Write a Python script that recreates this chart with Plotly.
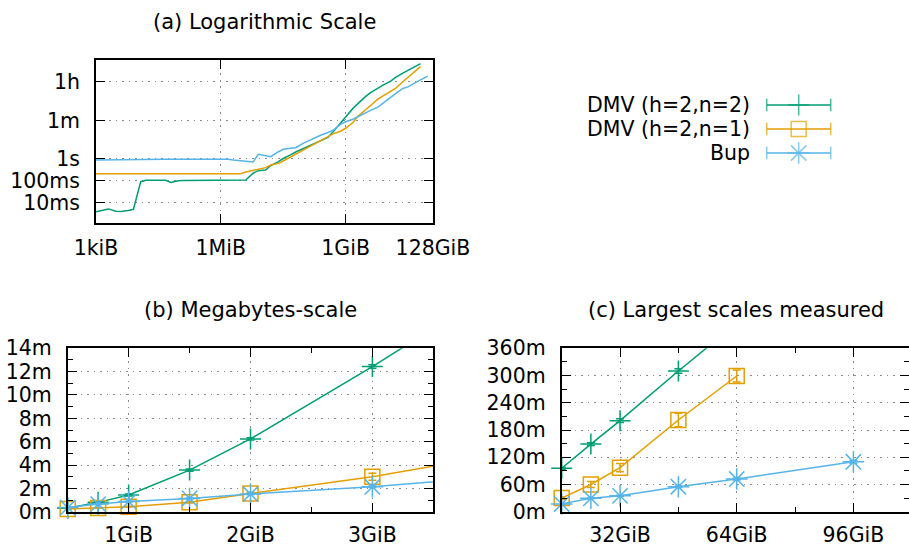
import numpy as np
import plotly.graph_objects as go

# ---------------- data ----------------
# problem sizes (kiB): 2^k and 1.5*2^k, from 1 kiB to 96 GiB
sizes_kib = [1, 1.5, 2, 3, 4, 6, 8, 12, 16, 24, 32, 48, 64, 96, 128, 192, 256, 384,
             512, 768, 1024, 1536, 2048, 3072, 4096, 6144, 8192, 12288, 16384, 24576,
             32768, 49152, 65536, 98304, 131072, 196608, 262144, 393216, 524288, 786432,
             1048576, 1572864, 2097152, 3145728, 4194304, 6291456, 8388608, 12582912,
             16777216, 25165824, 33554432, 50331648, 67108864, 100663296]

# running times in seconds
dmv22_s = [0.0037, 0.0043, 0.0050, 0.0039, 0.0038, 0.0042, 0.0048, 0.090, 0.104, 0.104,
           0.104, 0.104, 0.082, 0.100, 0.102, 0.102, 0.102, 0.102, 0.102, 0.102,
           0.102, 0.102, 0.102, 0.102, 0.108, 0.22, 0.29, 0.31, 0.50, 0.73,
           1.05, 1.53, 2.1, 2.95, 3.85, 5.5, 7.1, 9.8, 18, 48,
           86, 214, 374, 746, 1140, 1900, 2510, 3770, 5742, 8940,
           12036, 18600, 24900]
dmv21_s = [0.21, 0.21, 0.21, 0.21, 0.21, 0.21, 0.21, 0.21, 0.21, 0.21,
           0.21, 0.21, 0.21, 0.21, 0.21, 0.21, 0.21, 0.21, 0.21, 0.21,
           0.21, 0.21, 0.21, 0.21, 0.25, 0.30, 0.34, 0.40, 0.53, 0.61,
           0.81, 1.2, 1.61, 2.47, 3.39, 5.2, 7.1, 10.9, 14.4, 19,
           26, 48, 94, 180, 288, 570, 800, 1275, 1800, 3600,
           5820, 12120, 17940]
bup_s = [0.90, 0.91, 0.93, 0.96, 0.97, 0.97, 0.96, 0.97, 0.97, 0.97,
         0.97, 0.97, 0.96, 0.97, 0.97, 0.97, 0.97, 0.96, 0.97, 0.97,
         0.97, 0.97, 0.90, 0.84, 0.80, 0.72, 1.65, 1.45, 1.28, 2.1,
         2.8, 3.1, 3.3, 5.2, 6.75, 9.3, 12.4, 16.6, 21, 39,
         52, 68, 91, 128, 174, 245, 380, 665, 1020, 1770,
         2100, 3300, 4320, 6600]

# error (minutes) for sizes from 512 MiB upwards
dmv22_err_m = [0.03, 0.05, 0.08, 0.1, 0.1, 0.15, 0.2, 0.5, 0.6, 1, 2, 3, 4, 5, 6]
dmv21_err_m = [0.02, 0.02, 0.03, 0.05, 0.1, 0.3, 0.3, 0.5, 0.6, 1, 3, 6.6, 9, 15, 13]
bup_err_m = [0.02, 0.03, 0.03, 0.04, 0.05, 0.06, 0.08, 0.1, 0.2, 0.3, 0.5, 0.8, 1, 1.5, 2, 3]

series_names = ["DMV (h=2,n=2)", "DMV (h=2,n=1)", "Bup"]
colors = ["#009e73", "#e69f00", "#56b4e9"]
symbols = ["cross-thin-open", "square-open", "asterisk-open"]
msizes = [15, 15, 18]

log_tickvals = [2**10, 2**20, 2**30, 2**37]
log_ticktext = ["1kiB", "1MiB", "1GiB", "128GiB"]
time_tickvals = [0.01, 0.1, 1, 60, 3600]
time_ticktext = ["10ms", "100ms", "1s", "1m", "1h"]

titles = ["(a) Logarithmic Scale", "(b) Megabytes-scale", "(c) Largest scales measured"]

# ---------------- figure ----------------
W, H = 909, 547
FONT = "DejaVu Sans"
FS = 20.5

def px_x(p):
    return p / W

def px_y(p):
    return 1 - p / H

sizes_kib = np.array(sizes_kib, dtype=float)
sizes_bytes = sizes_kib * 1024
sizes_gib = sizes_kib / 1024**2

series_s = [np.array(dmv22_s), np.array(dmv21_s), np.array(bup_s)]
errs = []
for s, e in zip(series_s, [dmv22_err_m, dmv21_err_m, bup_err_m]):
    errs.append(np.array([0.0] * (len(s) - len(e)) + list(e)))

fig = go.Figure()

# (a) log-log lines
for i in range(3):
    n = len(series_s[i])
    fig.add_trace(go.Scatter(x=sizes_bytes[:n], y=series_s[i], mode="lines",
                             line=dict(color=colors[i], width=1.5),
                             xaxis="x", yaxis="y", showlegend=False))

# (b) and (c): linear, minutes
panels = [("x2", "y2", (0.5, 3.5), (0, 14)), ("x3", "y3", (16, 111.25), (0, 360))]
for xa, ya, xr, yr in panels:
    for i in range(3):
        n = len(series_s[i])
        xg = sizes_gib[:n]
        ym = series_s[i] / 60
        fig.add_trace(go.Scatter(x=xg, y=ym, mode="lines",
                                 line=dict(color=colors[i], width=1.5),
                                 xaxis=xa, yaxis=ya, showlegend=False))
        m = (xg >= xr[0] - 1e-9) & (xg <= xr[1]) & (ym <= yr[1])
        fig.add_trace(go.Scatter(x=xg[m], y=ym[m], mode="markers",
                                 marker=dict(symbol=symbols[i], size=msizes[i],
                                             color=colors[i],
                                             line=dict(color=colors[i], width=1.5)),
                                 error_y=dict(type="data", array=errs[i][m], visible=True,
                                              color=colors[i], thickness=1.5, width=4),
                                 cliponaxis=False,
                                 xaxis=xa, yaxis=ya, showlegend=False))

# legend samples (hidden axis)
legend_rows = [105, 129, 153]
for i in range(3):
    fig.add_trace(go.Scatter(x=[0, 0.5, 1], y=[legend_rows[i]] * 3, mode="lines+markers",
                             line=dict(color=colors[i], width=1.5),
                             marker=dict(symbol=["line-ns-open", symbols[i], "line-ns-open"],
                                         size=[9, msizes[i], 9], color=colors[i],
                                         line=dict(color=colors[i], width=1.5)),
                             cliponaxis=False,
                             xaxis="x4", yaxis="y4", showlegend=False))

common = dict(showline=True, linecolor="black", linewidth=1.8, mirror="ticks",
              ticks="inside", ticklen=9, tickwidth=1.2, tickcolor="black",
              showgrid=True, gridcolor="#8a8a8a", griddash="1.5px,5px", gridwidth=1,
              zeroline=False, automargin=False,
              tickfont=dict(family=FONT, size=FS, color="black"))
minor = dict(ticks="inside", ticklen=5, tickwidth=1.2, tickcolor="black", showgrid=False)

fig.update_layout(
    template="none",
    width=W, height=H, margin=dict(l=0, r=0, t=0, b=0, pad=0),
    paper_bgcolor="white", plot_bgcolor="white",
    font=dict(family=FONT, size=FS, color="black"),
    xaxis=dict(domain=[px_x(96), px_x(433)], type="log",
               range=[np.log10(2**10), np.log10(2**37)],
               tickmode="array", tickvals=log_tickvals, ticktext=log_ticktext,
               anchor="y", ticklabelstandoff=5, **common),
    yaxis=dict(domain=[px_y(223), px_y(60)], type="log", range=[-2.95, 4.56],
               tickmode="array", tickvals=time_tickvals, ticktext=time_ticktext,
               anchor="x", ticklabelstandoff=10, **common),
    xaxis2=dict(domain=[px_x(67.7), px_x(433.3)], range=[0.5, 3.5], tick0=0, dtick=1,
                ticksuffix="GiB", anchor="y2", minor=dict(dtick=0.5, **minor),
                ticklabelstandoff=4, **common),
    yaxis2=dict(domain=[px_y(511.7), px_y(348.3)], range=[0, 14], tick0=0, dtick=2,
                ticksuffix="m", anchor="x2", minor=dict(dtick=1, **minor),
                ticklabelstandoff=10, **common),
    xaxis3=dict(domain=[px_x(561.7), 1.0], range=[16, 111.25], tick0=0, dtick=32,
                ticksuffix="GiB", anchor="y3", minor=dict(dtick=16, **minor),
                ticklabelstandoff=4, **common),
    yaxis3=dict(domain=[px_y(511.7), px_y(348.3)], range=[0, 360], tick0=0, dtick=60,
                ticksuffix="m", anchor="x3", minor=dict(dtick=30, **minor),
                ticklabelstandoff=10, **common),
    xaxis4=dict(domain=[px_x(766.7), px_x(830.7)], range=[0, 1], visible=False,
                anchor="y4", automargin=False),
    yaxis4=dict(domain=[px_y(165), px_y(90)], range=[165, 90], visible=False,
                anchor="x4", automargin=False),
)

annotations = []
title_pos = [(264.5, 22), (250.5, 310), (736, 310)]
for t, (x, y) in zip(titles, title_pos):
    annotations.append(dict(text=t, x=px_x(x), y=px_y(y), xref="paper", yref="paper",
                            xanchor="center", yanchor="middle", showarrow=False,
                            font=dict(family=FONT, size=21, color="black")))
for name, row in zip(series_names, legend_rows):
    annotations.append(dict(text=name, x=px_x(751.7), y=px_y(row), xref="paper",
                            yref="paper", xanchor="right", yanchor="middle",
                            showarrow=False,
                            font=dict(family=FONT, size=FS, color="black")))
fig.update_layout(annotations=annotations)

fig.write_html("out.html")
